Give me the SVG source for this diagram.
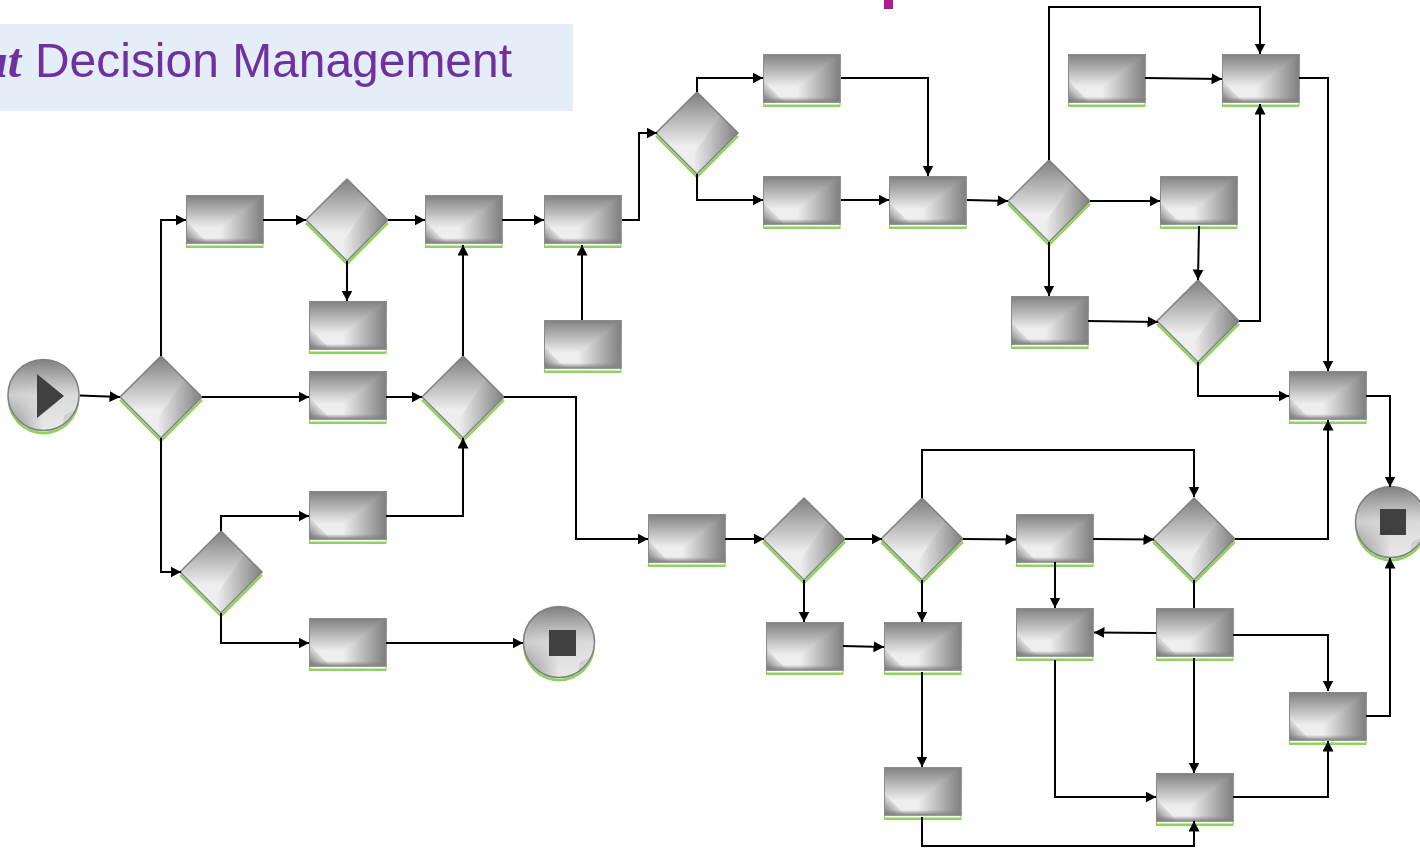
<svg xmlns="http://www.w3.org/2000/svg" width="1420" height="849" viewBox="0 0 1420 849">
<style>
.c{fill:none;stroke:#000;stroke-width:2;stroke-linejoin:miter}
.a{marker-end:url(#arr)}
.t{font-family:"Liberation Sans",Arial,sans-serif;font-size:49px;fill:#7030a0}
.i{font-family:"Liberation Serif","Times New Roman",serif;font-style:italic;font-weight:bold;font-size:48px;fill:#7030a0}
.g{fill:#8fd45a}
.e{fill:none;stroke:#808080;stroke-width:1.5}
.k{fill:#404040}
</style>
<defs>
<marker id="arr" markerUnits="userSpaceOnUse" markerWidth="11" markerHeight="12" refX="10.500" refY="5.500" orient="auto"><path d="M0 0L10.500 5.500L0 11Z" fill="#000"/></marker>
<linearGradient id="top" x1="0" y1="0" x2="0" y2="1"><stop offset="0" stop-color="#7f7f7f"/><stop offset=".68" stop-color="#eeeeee"/><stop offset="1" stop-color="#eeeeee"/></linearGradient>
<linearGradient id="right" gradientUnits="userSpaceOnUse" x1="34" y1="0" x2="77" y2="0"><stop offset="0" stop-color="#eeeeee"/><stop offset="1" stop-color="#7f7f7f"/></linearGradient>
<linearGradient id="bot" x1="0" y1="0" x2="0" y2="1"><stop offset="0" stop-color="#7f7f7f" stop-opacity="0"/><stop offset=".55" stop-color="#7f7f7f" stop-opacity=".55"/><stop offset="1" stop-color="#7f7f7f"/></linearGradient>
<linearGradient id="corner" gradientUnits="userSpaceOnUse" x1="2" y1="47" x2="13" y2="36"><stop offset="0" stop-color="#7f7f7f"/><stop offset="1" stop-color="#7f7f7f" stop-opacity="0"/></linearGradient>
<linearGradient id="dl" x1="0" y1="0" x2="0" y2="1"><stop offset="0" stop-color="#7f7f7f"/><stop offset=".66" stop-color="#eeeeee"/><stop offset="1" stop-color="#eeeeee"/></linearGradient>
<linearGradient id="dr" gradientUnits="userSpaceOnUse" x1="-4" y1="0" x2="41" y2="0"><stop offset="0" stop-color="#eeeeee"/><stop offset="1" stop-color="#7f7f7f"/></linearGradient>
<linearGradient id="cl" x1="0" y1="0" x2="1" y2="0"><stop offset="0" stop-color="#808080"/><stop offset=".5" stop-color="#e8e8e8"/><stop offset="1" stop-color="#ececec"/></linearGradient>
<linearGradient id="ct" x1="0" y1="0" x2="0" y2="1"><stop offset="0" stop-color="#7f7f7f"/><stop offset=".5" stop-color="#d8d8d8" stop-opacity=".9"/><stop offset="1" stop-color="#d8d8d8" stop-opacity="0"/></linearGradient>
<g id="box">
<rect x="0" y="0" width="77.500" height="53" class="g"/>
<rect x="1" y="1" width="75.500" height="49.500" fill="#fff"/>
<rect x="0" y="0" width="77.500" height="48.500" fill="url(#top)"/>
<path d="M77.500 0V48.500H26L34 33Z" fill="url(#right)"/>
<rect x="0" y="43" width="77.500" height="5.500" fill="url(#bot)"/>
<path d="M0 26V48.500H22Z" fill="url(#corner)"/>
<rect x=".5" y=".5" width="76.500" height="47.500" fill="none" stroke="#8a8a8a" stroke-width="1"/>
</g>
<g id="dia">
<path d="M-41 3L0 44L41 3" fill="none" stroke="#8fd45a" stroke-width="2.400"/>
<path d="M0 -41L41 0L0 41L-41 0Z" fill="url(#dl)"/>
<path d="M23 -18L41 0L0 41L-10 31Z" fill="url(#dr)"/>
<path d="M0 -41L41 0L0 41L-41 0Z" class="e"/>
</g>
<g id="cir">
<circle cx="0" cy="3.500" r="36" class="g"/>
<circle cx="0" cy="1.200" r="35.500" fill="#fff"/>
<circle cx="0" cy="0" r="35.500" fill="url(#cl)"/>
<circle cx="0" cy="0" r="35.500" fill="url(#ct)"/>
<path d="M19 30A35.500 35.500 0 0 0 32 15L21 20Z" fill="#7f7f7f" opacity=".2"/>
<circle cx="0" cy="0" r="35.500" class="e"/>
</g>
</defs>
<rect id="title-band" x="0" y="24" width="573" height="87" fill="#e3eef8"/>
<text id="title-start" class="i" x="21" y="77" text-anchor="end">ut</text>
<text id="title" class="t" x="35" y="77" textLength="477" lengthAdjust="spacingAndGlyphs">Decision Management</text>
<rect id="pink-mark" x="884" y="0" width="9" height="9" fill="#ae1c92"/>
<g id="start"><use href="#cir" transform="translate(43.500 395)"/><path class="k" d="M37 374V418L64 396Z"/></g>
<g id="end1"><use href="#cir" transform="translate(559 642)"/><rect class="k" x="549" y="630" width="27" height="26"/></g>
<g id="end2"><use href="#cir" transform="translate(1391 522)"/><rect class="k" x="1380" y="509" width="26" height="26"/></g>
<g id="d1"><use href="#dia" transform="translate(161 397)"/></g>
<g id="d2"><use href="#dia" transform="translate(347 220)"/></g>
<g id="d3"><use href="#dia" transform="translate(463 397)"/></g>
<g id="d4"><use href="#dia" transform="translate(221 572)"/></g>
<g id="d5"><use href="#dia" transform="translate(697 133)"/></g>
<g id="d6"><use href="#dia" transform="translate(1049 201)"/></g>
<g id="d7"><use href="#dia" transform="translate(1198 321)"/></g>
<g id="d8"><use href="#dia" transform="translate(804 539)"/></g>
<g id="d9"><use href="#dia" transform="translate(922 539)"/></g>
<g id="d10"><use href="#dia" transform="translate(1194 539)"/></g>
<g id="b1"><use href="#box" x="186" y="195"/></g>
<g id="b2"><use href="#box" x="425" y="195"/></g>
<g id="b3"><use href="#box" x="544" y="195"/></g>
<g id="b4"><use href="#box" x="309" y="301"/></g>
<g id="b5"><use href="#box" x="309" y="371"/></g>
<g id="b6"><use href="#box" x="309" y="491"/></g>
<g id="b7"><use href="#box" x="309" y="618"/></g>
<g id="b8"><use href="#box" x="544" y="320"/></g>
<g id="b9"><use href="#box" x="763" y="54"/></g>
<g id="b10"><use href="#box" x="763" y="176"/></g>
<g id="b11"><use href="#box" x="889" y="176"/></g>
<g id="b12"><use href="#box" x="1068" y="54"/></g>
<g id="b13"><use href="#box" x="1222" y="54"/></g>
<g id="b14"><use href="#box" x="1160" y="176"/></g>
<g id="b15"><use href="#box" x="1011" y="296"/></g>
<g id="b16"><use href="#box" x="1289" y="371"/></g>
<g id="b17"><use href="#box" x="648" y="514"/></g>
<g id="b18"><use href="#box" x="766" y="622"/></g>
<g id="b19"><use href="#box" x="884" y="622"/></g>
<g id="b20"><use href="#box" x="1016" y="514"/></g>
<g id="b21"><use href="#box" x="1016" y="608"/></g>
<g id="b22"><use href="#box" x="1156" y="608"/></g>
<g id="b23"><use href="#box" x="1289" y="692"/></g>
<g id="b24"><use href="#box" x="884" y="767"/></g>
<g id="b25"><use href="#box" x="1156" y="773"/></g>
<g id="connectors">
<path class="c a" d="M80 395.500L120 397"/>
<path class="c a" d="M161 356V220H186"/>
<path class="c a" d="M202 397H309"/>
<path class="c a" d="M161 438V572H181"/>
<path class="c a" d="M263 220H306"/>
<path class="c a" d="M388 220H425"/>
<path class="c a" d="M347 261V301"/>
<path class="c a" d="M502 220H544"/>
<path class="c a" d="M463 356V245"/>
<path class="c a" d="M386 397H422"/>
<path class="c a" d="M386 516H463V438"/>
<path class="c a" d="M221 531V516H309"/>
<path class="c a" d="M221 613V643H309"/>
<path class="c a" d="M386 643H523"/>
<path class="c a" d="M582 320V245"/>
<path class="c a" d="M622 220H639V133H657"/>
<path class="c a" d="M697 92V78H763"/>
<path class="c a" d="M697 174V200H763"/>
<path class="c a" d="M841 78H928V176"/>
<path class="c a" d="M841 200H889"/>
<path class="c a" d="M967 200L1008 201"/>
<path class="c a" d="M1049 160V7H1260V54"/>
<path class="c a" d="M1090 201L1160 201"/>
<path class="c a" d="M1049 242V296"/>
<path class="c a" d="M1145 78L1222 79"/>
<path class="c a" d="M1299 78H1328V371"/>
<path class="c a" d="M1199 226L1198 280"/>
<path class="c a" d="M1088 321L1158 322"/>
<path class="c a" d="M1239 321H1260V104"/>
<path class="c a" d="M1198 362V396H1289"/>
<path class="c a" d="M1366 396H1390V487"/>
<path class="c a" d="M504 397H576V539H648"/>
<path class="c a" d="M725 539H764"/>
<path class="c a" d="M845 539H882"/>
<path class="c a" d="M804 580V622"/>
<path class="c a" d="M843 646L884 647"/>
<path class="c a" d="M922 498V450H1194V497"/>
<path class="c a" d="M963 539L1016 539.500"/>
<path class="c a" d="M922 580V622"/>
<path class="c a" d="M922 672V767"/>
<path class="c a" d="M922 817V846H1194V821"/>
<path class="c a" d="M1093 539L1154 539.500"/>
<path class="c a" d="M1055 562V608"/>
<path class="c a" d="M1235 539H1328V420"/>
<path class="c" d="M1194 580V608"/>
<path class="c a" d="M1156 633L1094 632.500"/>
<path class="c a" d="M1233 635H1328V691"/>
<path class="c a" d="M1194 658V773"/>
<path class="c a" d="M1055 660V797H1156"/>
<path class="c a" d="M1233 797H1328V741"/>
<path class="c a" d="M1366 716H1390V558"/>
</g>
</svg>
